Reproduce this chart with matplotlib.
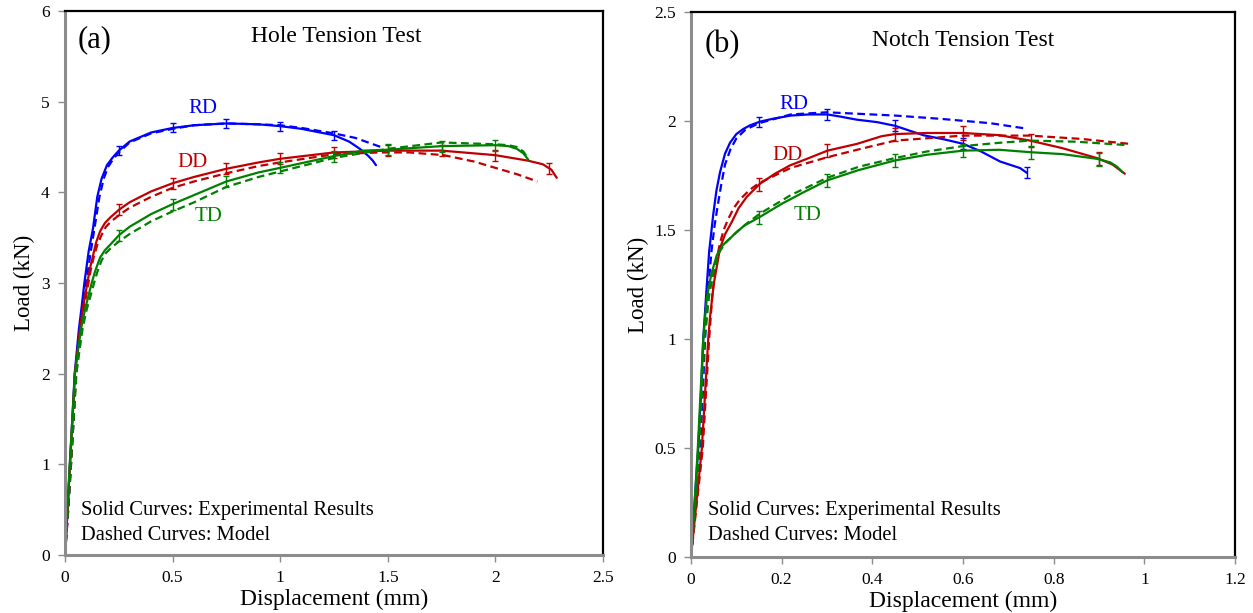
import numpy as np
import matplotlib
matplotlib.use("Agg")
import matplotlib.pyplot as plt

plt.rcParams['font.family'] = ['Liberation Serif', 'DejaVu Serif']

# ---- (a) Hole tension test ----
hole_rd_x = [0, 0.012, 0.023, 0.034, 0.045, 0.055, 0.065, 0.078, 0.09, 0.11, 0.13, 0.15, 0.17, 0.195, 0.22, 0.25,
             0.3, 0.4, 0.5, 0.6, 0.75, 0.9, 1.0, 1.1, 1.25, 1.32, 1.37, 1.41, 1.43, 1.445]
hole_rd_y = [0, 0.5, 1.0, 1.5, 2.0, 2.25, 2.5, 2.75, 3.0, 3.35, 3.6, 3.95, 4.15, 4.3, 4.38, 4.46,
             4.56, 4.66, 4.71, 4.74, 4.76, 4.75, 4.73, 4.70, 4.63, 4.56, 4.48, 4.40, 4.35, 4.30]
hole_rd_mx = [0, 0.015, 0.028, 0.04, 0.05, 0.06, 0.071, 0.085, 0.098, 0.12, 0.14, 0.16, 0.18, 0.2, 0.225, 0.25,
              0.3, 0.4, 0.5, 0.6, 0.75, 0.9, 1.0, 1.1, 1.25, 1.35, 1.42, 1.48]
hole_rd_my = [0, 0.5, 1.0, 1.5, 2.0, 2.25, 2.5, 2.75, 3.0, 3.35, 3.65, 3.95, 4.15, 4.28, 4.37, 4.44,
              4.55, 4.65, 4.70, 4.74, 4.76, 4.75, 4.74, 4.71, 4.65, 4.60, 4.54, 4.49]

hole_dd_x = [0, 0.012, 0.023, 0.035, 0.046, 0.058, 0.07, 0.085, 0.1, 0.115, 0.13, 0.145, 0.163, 0.185, 0.209, 0.252,
             0.3, 0.4, 0.5, 0.6, 0.75, 0.9, 1.0, 1.25, 1.5, 1.75, 2.0, 2.15, 2.22, 2.26, 2.285]
hole_dd_y = [0, 0.5, 1.0, 1.5, 2.0, 2.25, 2.5, 2.75, 2.95, 3.15, 3.3, 3.45, 3.57, 3.66, 3.72, 3.81,
             3.89, 4.01, 4.10, 4.17, 4.26, 4.33, 4.37, 4.44, 4.46, 4.46, 4.41, 4.35, 4.31, 4.25, 4.16]
hole_dd_mx = [0, 0.015, 0.028, 0.04, 0.052, 0.064, 0.076, 0.09, 0.105, 0.12, 0.135, 0.15, 0.17, 0.19, 0.215, 0.252,
              0.3, 0.4, 0.5, 0.6, 0.75, 0.9, 1.0, 1.25, 1.46, 1.6, 1.76, 1.9, 2.0, 2.1, 2.195]
hole_dd_my = [0, 0.5, 1.0, 1.5, 2.0, 2.25, 2.5, 2.75, 2.95, 3.15, 3.3, 3.42, 3.53, 3.62, 3.68, 3.75,
              3.83, 3.95, 4.05, 4.12, 4.21, 4.29, 4.33, 4.42, 4.44, 4.44, 4.41, 4.34, 4.27, 4.20, 4.12]

hole_td_x = [0, 0.011, 0.022, 0.034, 0.046, 0.06, 0.075, 0.092, 0.11, 0.124, 0.14, 0.163, 0.185, 0.209, 0.252,
             0.3, 0.4, 0.5, 0.6, 0.75, 0.9, 1.0, 1.25, 1.386, 1.5, 1.75, 2.0, 2.06, 2.1, 2.13, 2.153]
hole_td_y = [0, 0.5, 1.0, 1.5, 2.0, 2.25, 2.5, 2.7, 2.87, 3.0, 3.13, 3.28, 3.36, 3.42, 3.53,
             3.62, 3.76, 3.87, 3.97, 4.12, 4.22, 4.27, 4.40, 4.46, 4.47, 4.51, 4.52, 4.51, 4.48, 4.43, 4.36]
hole_td_mx = [0, 0.014, 0.027, 0.04, 0.053, 0.067, 0.082, 0.1, 0.12, 0.135, 0.15, 0.17, 0.19, 0.215, 0.252,
              0.3, 0.4, 0.5, 0.6, 0.75, 0.9, 1.0, 1.25, 1.5, 1.75, 2.0, 2.06, 2.1, 2.13, 2.153]
hole_td_my = [0, 0.5, 1.0, 1.5, 2.0, 2.25, 2.5, 2.7, 2.87, 3.0, 3.12, 3.25, 3.33, 3.39, 3.46,
              3.54, 3.68, 3.79, 3.89, 4.06, 4.17, 4.23, 4.38, 4.48, 4.55, 4.53, 4.52, 4.50, 4.45, 4.37]

hole_rd_err = [0.25, 0.5, 0.75, 1.0, 1.25]
hole_dd_err = [0.25, 0.5, 0.75, 1.0, 1.25, 1.5, 1.75, 2.0, 2.25]
hole_td_err = [0.25, 0.5, 0.75, 1.0, 1.25, 1.5, 1.75, 2.0]

# ---- (b) Notch tension test ----
notch_rd_x = [0, 0.008, 0.016, 0.022, 0.027, 0.034, 0.04, 0.049, 0.056, 0.064, 0.075, 0.086, 0.1, 0.115, 0.13, 0.152,
              0.18, 0.22, 0.26, 0.301, 0.33, 0.366, 0.41, 0.45, 0.512, 0.56, 0.601, 0.64, 0.682, 0.726, 0.741]
notch_rd_y = [0, 0.25, 0.5, 0.75, 1.0, 1.22, 1.4, 1.57, 1.68, 1.765, 1.85, 1.9, 1.94, 1.963, 1.98, 1.997,
              2.01, 2.025, 2.03, 2.03, 2.02, 2.006, 1.995, 1.978, 1.935, 1.915, 1.895, 1.86, 1.814, 1.784, 1.762]
notch_rd_mx = [0, 0.01, 0.02, 0.026, 0.031, 0.038, 0.045, 0.052, 0.058, 0.066, 0.075, 0.087, 0.1, 0.12, 0.15,
               0.22, 0.3, 0.45, 0.55, 0.66, 0.74]
notch_rd_my = [0, 0.25, 0.5, 0.75, 1.0, 1.22, 1.4, 1.52, 1.6, 1.7, 1.8, 1.87, 1.92, 1.96, 1.99,
               2.03, 2.04, 2.025, 2.01, 1.99, 1.965]

notch_dd_x = [0, 0.012, 0.024, 0.031, 0.038, 0.042, 0.05, 0.064, 0.075, 0.09, 0.105, 0.123, 0.152, 0.185, 0.218,
              0.26, 0.301, 0.366, 0.42, 0.45, 0.52, 0.6, 0.68, 0.748, 0.82, 0.897, 0.93, 0.957]
notch_dd_y = [0, 0.25, 0.5, 0.75, 1.0, 1.1, 1.25, 1.416, 1.48, 1.537, 1.6, 1.652, 1.712, 1.758, 1.796,
              1.83, 1.864, 1.895, 1.93, 1.94, 1.945, 1.945, 1.935, 1.91, 1.875, 1.829, 1.8, 1.758]
notch_dd_mx = [0, 0.013, 0.026, 0.033, 0.04, 0.047, 0.056, 0.064, 0.072, 0.082, 0.094, 0.108, 0.13, 0.15, 0.22,
               0.301, 0.38, 0.45, 0.6, 0.748, 0.86, 0.968]
notch_dd_my = [0, 0.25, 0.5, 0.75, 1.0, 1.2, 1.36, 1.44, 1.5, 1.55, 1.6, 1.64, 1.685, 1.715, 1.785,
               1.834, 1.875, 1.91, 1.933, 1.933, 1.918, 1.895]

notch_td_x = [0, 0.008, 0.015, 0.021, 0.027, 0.031, 0.035, 0.045, 0.057, 0.07, 0.086, 0.1, 0.119, 0.152,
              0.2, 0.25, 0.301, 0.37, 0.45, 0.52, 0.6, 0.68, 0.748, 0.82, 0.897, 0.925, 0.94, 0.952]
notch_td_y = [0, 0.25, 0.5, 0.75, 1.0, 1.1, 1.19, 1.3, 1.385, 1.43, 1.461, 1.49, 1.522, 1.56,
              1.62, 1.675, 1.728, 1.775, 1.819, 1.845, 1.864, 1.868, 1.857, 1.848, 1.826, 1.81, 1.79, 1.765]
notch_td_mx = [0, 0.01, 0.018, 0.024, 0.03, 0.035, 0.04, 0.05, 0.06, 0.075, 0.09, 0.12, 0.152,
               0.22, 0.301, 0.37, 0.45, 0.52, 0.6, 0.68, 0.748, 0.85, 0.957]
notch_td_my = [0, 0.25, 0.5, 0.75, 1.0, 1.1, 1.2, 1.31, 1.39, 1.44, 1.47, 1.525, 1.575,
               1.66, 1.74, 1.79, 1.83, 1.86, 1.885, 1.9, 1.91, 1.905, 1.89]

notch_rd_err = [0.15, 0.3, 0.45, 0.6, 0.741]
notch_dd_err = [0.15, 0.3, 0.45, 0.6, 0.75, 0.9]
notch_td_err = [0.15, 0.3, 0.45, 0.6, 0.75, 0.9]

BLUE = '#0000ff'
RED = '#c00000'
GREEN = '#008000'


def style_axes(ax, xmax, xstep, ymax, ystep):
    ax.set_xlim(0, xmax)
    ax.set_ylim(0, ymax)
    ax.set_xticks(np.arange(0, xmax + xstep / 2, xstep))
    ax.set_yticks(np.arange(0, ymax + ystep / 2, ystep))
    ax.xaxis.set_major_formatter(plt.FuncFormatter(lambda v, p: '%g' % round(v, 2)))
    ax.yaxis.set_major_formatter(plt.FuncFormatter(lambda v, p: '%g' % round(v, 2)))
    for s in ['left', 'bottom']:
        ax.spines[s].set_color('#8c8c8c')
        ax.spines[s].set_linewidth(2.2)
    for s in ['top', 'right']:
        ax.spines[s].set_color('black')
        ax.spines[s].set_linewidth(1.6)
    ax.tick_params(direction='out', length=5, width=1, color='#8c8c8c', labelsize=12.5, pad=6)
    ax.set_xlabel('Displacement (mm)', fontsize=17, labelpad=2)
    ax.set_ylabel('Load (kN)', fontsize=16.5, labelpad=4)


def draw_set(ax, x, y, mx, my, err_x, err, color):
    ax.plot(x, y, color=color, lw=1.6, solid_capstyle='round')
    ax.plot(mx, my, color=color, lw=1.6, ls=(0, (3.5, 2)))
    ey = np.interp(err_x, x, y)
    ax.errorbar(err_x, ey, yerr=err, fmt='none', ecolor=color, elinewidth=1, capsize=2.5, capthick=1)


fig = plt.figure(figsize=(12.53, 6.13), dpi=100)
ax1 = fig.add_axes([65 / 1253, 1 - 555 / 613, 538 / 1253, 544 / 613])
ax2 = fig.add_axes([691 / 1253, 1 - 557 / 613, 544 / 1253, 545 / 613])

draw_set(ax1, hole_rd_x, hole_rd_y, hole_rd_mx, hole_rd_my, hole_rd_err, 0.05, BLUE)
draw_set(ax1, hole_dd_x, hole_dd_y, hole_dd_mx, hole_dd_my, hole_dd_err, 0.06, RED)
draw_set(ax1, hole_td_x, hole_td_y, hole_td_mx, hole_td_my, hole_td_err, 0.06, GREEN)
style_axes(ax1, 2.5, 0.5, 6, 1)

draw_set(ax2, notch_rd_x, notch_rd_y, notch_rd_mx, notch_rd_my, notch_rd_err, 0.025, BLUE)
draw_set(ax2, notch_dd_x, notch_dd_y, notch_dd_mx, notch_dd_my, notch_dd_err, 0.03, RED)
draw_set(ax2, notch_td_x, notch_td_y, notch_td_mx, notch_td_my, notch_td_err, 0.03, GREEN)
style_axes(ax2, 1.2, 0.2, 2.5, 0.5)

# labels
ax1.text(0.643, 4.92, 'RD', color=BLUE, fontsize=15, ha='center', va='center')
ax1.text(0.593, 4.33, 'DD', color=RED, fontsize=15, ha='center', va='center')
ax1.text(0.666, 3.73, 'TD', color=GREEN, fontsize=15, ha='center', va='center')
ax1.text(0.06, 5.68, '(a)', fontsize=22, va='center')
ax1.text(1.26, 5.72, 'Hole Tension Test', fontsize=17, ha='center', va='center')
ax1.text(0.075, 0.49, 'Solid Curves: Experimental Results', fontsize=14.8, va='center')
ax1.text(0.075, 0.21, 'Dashed Curves: Model', fontsize=14.8, va='center')

ax2.text(0.226, 2.075, 'RD', color=BLUE, fontsize=15, ha='center', va='center')
ax2.text(0.212, 1.843, 'DD', color=RED, fontsize=15, ha='center', va='center')
ax2.text(0.258, 1.565, 'TD', color=GREEN, fontsize=15, ha='center', va='center')
ax2.text(0.03, 2.35, '(b)', fontsize=22, va='center')
ax2.text(0.6, 2.37, 'Notch Tension Test', fontsize=17, ha='center', va='center')
ax2.text(0.037, 0.215, 'Solid Curves: Experimental Results', fontsize=14.8, va='center')
ax2.text(0.037, 0.1, 'Dashed Curves: Model', fontsize=14.8, va='center')

fig.savefig('out.png', dpi=100)
